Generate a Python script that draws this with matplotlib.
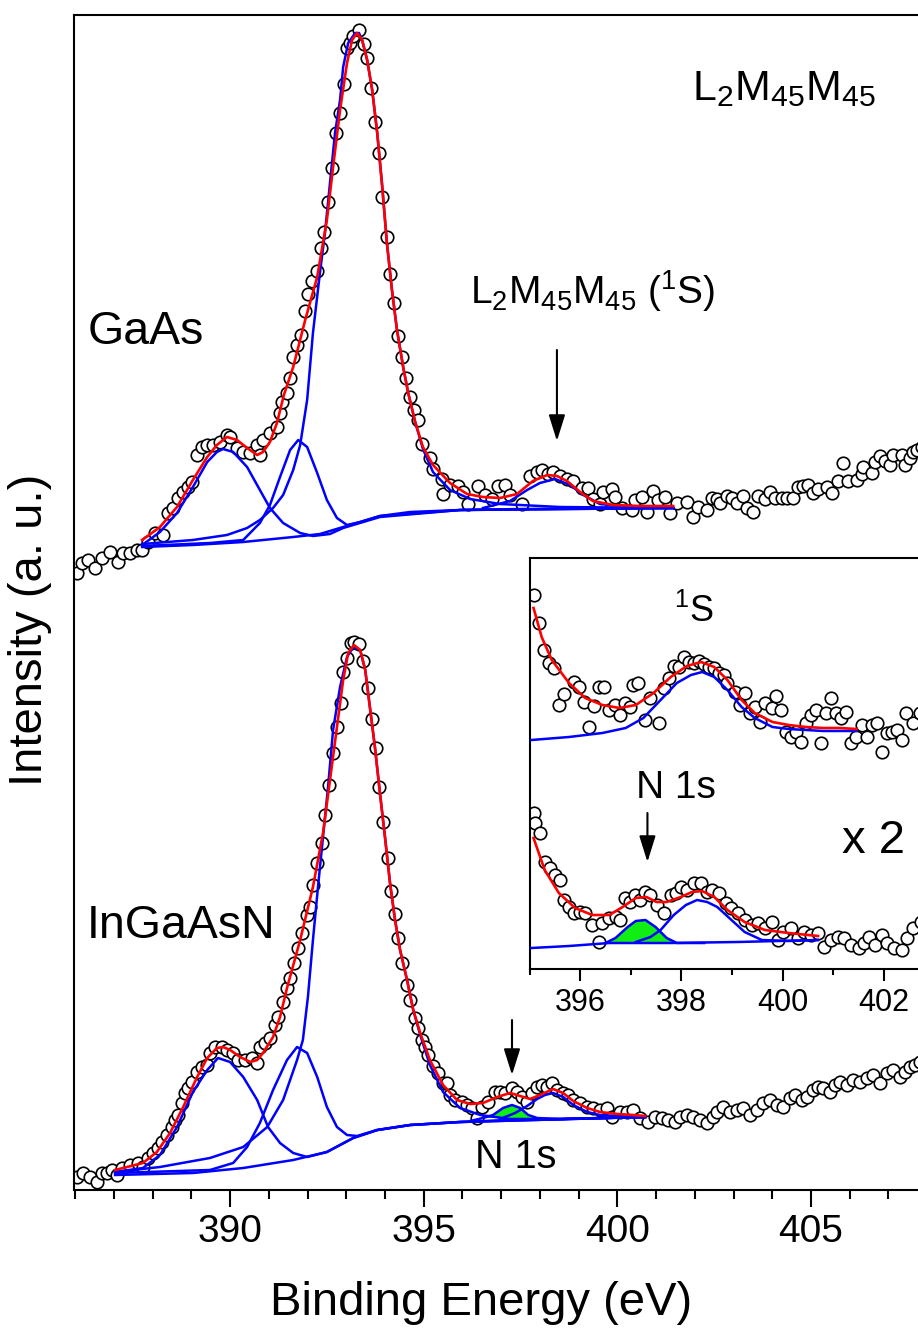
import matplotlib
matplotlib.use('Agg')
import matplotlib.pyplot as plt
from matplotlib.ticker import MultipleLocator

plt.rcParams['font.family'] = ['Liberation Sans', 'DejaVu Sans']
plt.rcParams['mathtext.fontset'] = 'custom'
plt.rcParams['mathtext.rm'] = 'Liberation Sans'
plt.rcParams['mathtext.it'] = 'Liberation Sans:italic'
plt.rcParams['mathtext.bf'] = 'Liberation Sans:bold'
plt.rcParams['mathtext.default'] = 'regular'

# ---------------- main panel: GaAs spectrum (offset) ----------------
gaas_E = [386.05, 386.18, 386.33, 386.51, 386.70, 386.90, 387.11, 387.24, 387.42, 387.60,
          387.73, 387.88, 388.06, 388.27, 388.40, 388.53, 388.66, 388.79, 388.92, 389.02,
          389.15, 389.28, 389.41, 389.56, 389.74, 389.92, 390.00, 390.18, 390.34, 390.52,
          390.70, 390.77, 390.85, 391.03, 391.21, 391.29, 391.34, 391.47,
          391.55, 391.63, 391.73, 391.84, 391.94, 392.02, 392.12, 392.25, 392.35, 392.43,
          392.53, 392.63, 392.74, 392.84, 392.94, 393.02, 393.10, 393.18, 393.33, 393.46,
          393.54, 393.64, 393.74, 393.85, 393.92, 394.05, 394.13, 394.23, 394.34, 394.44,
          394.54, 394.65, 394.75,
          394.86, 394.96, 395.16, 395.24, 395.47, 395.50, 395.68, 395.89, 396.02, 396.15,
          396.41, 396.59, 396.77, 396.92, 397.10, 397.23, 397.54, 397.75, 397.93, 398.06,
          398.21, 398.34, 398.52, 398.70, 398.86, 399.09, 399.24, 399.37, 399.55,
          399.63, 399.86, 399.94, 400.12, 400.38, 400.46, 400.64, 400.77, 400.92, 401.05,
          401.23, 401.36, 401.54, 401.80, 401.96, 402.08, 402.32, 402.45, 402.58, 402.65,
          402.83, 402.96, 403.09, 403.25, 403.35, 403.50, 403.63, 403.81, 403.94, 404.07,
          404.25, 404.38, 404.54, 404.67, 404.79, 404.92, 405.05, 405.18, 405.41, 405.54,
          405.70, 405.83, 405.96, 406.19, 406.32, 406.35, 406.58, 406.65, 406.78, 406.91,
          407.04, 407.12, 407.35, 407.43, 407.56, 407.64, 407.74, 407.87]
gaas_I = [61.7, 62.7, 63.0, 62.2, 63.2, 63.8, 62.8, 63.7, 63.7, 64.0,
          64.0, 64.8, 65.7, 65.5, 67.7, 68.2, 69.2, 69.8, 70.3, 70.8,
          73.5, 74.3, 74.5, 74.5, 74.8, 75.5, 75.3, 74.2, 73.8, 73.7,
          74.5, 73.5, 75.0, 75.7, 76.3, 77.7, 78.8, 79.7,
          81.2, 83.3, 84.5, 85.5, 87.9, 89.6, 90.9, 91.9, 94.2, 95.8,
          98.8, 102.2, 105.7, 107.7, 110.6, 114.2, 114.7, 115.4, 116.0, 114.6,
          113.2, 110.2, 106.8, 103.7, 99.3, 95.3, 91.6, 88.7, 85.4, 83.3,
          81.2, 79.3, 78.0,
          77.0, 74.6, 73.2, 72.1, 71.1, 69.6, 70.5, 70.4, 69.8, 68.6,
          70.4, 69.5, 69.1, 70.4, 70.5, 69.5, 68.6, 71.4, 71.8, 72.0,
          71.6, 71.8, 71.4, 71.1, 70.9, 70.2, 70.2, 69.1, 68.6,
          69.8, 70.1, 69.3, 68.2, 68.0, 69.0, 69.3, 67.8, 69.9, 69.0,
          69.3, 67.7, 68.7, 68.8, 67.3, 68.3, 68.0, 69.2, 69.1, 68.7,
          69.4, 69.2, 68.7, 69.4, 68.2, 67.8, 69.4, 69.1, 69.8, 69.2,
          69.2, 69.2, 69.2, 70.3, 70.4, 70.5, 69.7, 70.1, 70.3, 69.7,
          70.9, 72.7, 70.9, 71.0, 71.6, 72.3, 71.7, 72.8, 73.4, 72.9,
          72.5, 73.5, 73.5, 72.5, 73.2, 73.8, 74.0, 74.3]

gaas_fit_E = [387.73, 388.19, 388.63, 389.04, 389.41, 389.66, 389.92, 390.18, 390.44, 390.70,
              390.85, 391.03, 391.21, 391.39, 391.63, 391.94, 392.25, 392.50, 392.66, 392.84,
              393.02, 393.15, 393.28, 393.41, 393.54, 393.67, 393.80, 393.93, 394.05, 394.18,
              394.31, 394.47, 394.60, 394.78, 394.98, 395.24, 395.68, 396.12, 396.53, 396.97,
              397.41, 397.82, 398.19, 398.44, 398.70, 399.04, 399.37, 399.89, 400.59, 401.44]
gaas_fit_I = [65.0, 66.3, 68.3, 71.0, 73.3, 74.5, 75.3, 75.0, 74.2, 73.5,
              73.8, 74.8, 76.7, 79.5, 82.3, 87.0, 91.3, 97.0, 102.3, 108.0,
              112.7, 115.0, 115.7, 115.0, 113.0, 110.0, 105.7, 100.3, 94.7, 90.0,
              86.0, 82.3, 79.7, 76.8, 74.3, 72.5, 70.7, 69.6, 69.3, 69.2,
              69.6, 70.9, 71.5, 71.4, 70.9, 69.8, 68.9, 68.5, 68.4, 68.4]

gaas_bg_E = [387.73, 389.04, 390.34, 391.63, 392.32, 392.92, 393.36, 393.87, 394.65, 395.94, 397.49, 401.44]
gaas_bg_I = [64.3, 64.5, 64.8, 65.3, 65.6, 66.3, 66.8, 67.4, 67.8, 68.0, 68.1, 68.2]

gaas_c1_E = [387.73, 388.19, 388.63, 389.04, 389.41, 389.66, 389.82, 390.08, 390.44, 390.77,
             391.03, 391.37, 391.81, 392.14, 392.58, 392.92, 393.87, 395.94, 401.44]
gaas_c1_I = [64.5, 65.8, 67.7, 70.3, 72.8, 73.8, 74.1, 73.8, 72.3, 70.0,
             68.2, 66.7, 65.7, 65.4, 65.6, 66.2, 67.3, 68.0, 68.2]

gaas_c2_E = [387.73, 389.48, 390.34, 390.77, 391.03, 391.29, 391.55, 391.76, 391.99, 392.25,
             392.50, 392.76, 393.02, 393.36, 393.87, 395.94, 401.44]
gaas_c2_I = [64.4, 64.7, 65.0, 66.7, 68.5, 71.3, 74.0, 75.0, 74.3, 71.7,
             69.0, 67.2, 66.5, 66.8, 67.4, 68.0, 68.2]

gaas_c3_E = [387.73, 389.04, 389.92, 390.44, 390.77, 391.11, 391.37, 391.63, 391.81, 391.99,
             392.14, 392.32, 392.45, 392.58, 392.71, 392.84, 392.92, 393.05, 393.23, 393.33,
             393.41, 393.54, 393.67, 393.80, 393.93, 394.05, 394.18, 394.31, 394.47, 394.60,
             394.78, 394.98, 395.24, 395.68, 396.20, 396.97, 398.52, 401.44]
gaas_c3_I = [64.6, 65.0, 65.5, 66.2, 67.0, 68.2, 69.5, 72.0, 74.5, 79.0,
             85.7, 91.7, 95.7, 100.7, 105.7, 109.0, 112.3, 114.7, 115.7, 115.7,
             115.0, 113.0, 110.0, 105.7, 100.3, 94.7, 90.0, 86.0, 82.3, 79.7,
             76.8, 74.1, 71.8, 70.0, 69.1, 68.6, 68.3, 68.2]

gaas_c4_E = [396.53, 397.23, 397.67, 398.00, 398.39, 398.78, 399.12, 399.55, 400.25, 401.44]
gaas_c4_I = [68.2, 68.9, 70.0, 70.7, 71.1, 70.5, 69.5, 68.6, 68.3, 68.2]

# ---------------- main panel: InGaAsN spectrum ----------------
ing_E = [386.05, 386.20, 386.39, 386.56, 386.70, 386.82, 386.95, 387.08, 387.21, 387.42,
         387.62, 387.75, 387.88, 388.01, 388.14, 388.24, 388.37, 388.50, 388.58, 388.66,
         388.76, 388.84, 388.92, 389.02, 389.15, 389.28, 389.41, 389.48, 389.61, 389.79,
         389.92, 390.08, 390.21, 390.39, 390.57, 390.70, 390.77, 390.90, 391.03, 391.16,
         391.24, 391.37, 391.47, 391.55, 391.65, 391.76, 391.86, 391.99, 392.07, 392.14,
         392.25, 392.38, 392.45, 392.56, 392.66, 392.76, 392.87, 392.92, 393.02, 393.12,
         393.20, 393.33, 393.43, 393.56, 393.67, 393.77, 393.85, 393.95, 394.08, 394.16,
         394.26, 394.34, 394.44, 394.57, 394.65, 394.78, 394.86, 394.96, 395.03, 395.11,
         395.24, 395.37, 395.50, 395.60, 395.68, 395.81, 395.99, 396.12, 396.25, 396.38,
         396.51, 396.66, 396.84, 396.97, 397.10, 397.28, 397.41, 397.54, 397.67, 397.80,
         397.93, 398.06, 398.19, 398.32, 398.44, 398.60, 398.73, 398.86, 399.04, 399.22,
         399.37, 399.55, 399.73, 399.86, 400.07, 400.25, 400.41, 400.59, 400.80, 400.97,
         401.15, 401.31, 401.49, 401.62, 401.80, 401.96, 402.14, 402.32, 402.47, 402.58,
         402.73, 402.91, 403.09, 403.25, 403.43, 403.61, 403.76, 403.94, 404.12, 404.28,
         404.46, 404.59, 404.77, 404.90, 405.05, 405.18, 405.31, 405.49, 405.62, 405.75,
         405.93, 406.09, 406.27, 406.45, 406.60, 406.78, 406.96, 407.12, 407.30, 407.43,
         407.56, 407.69, 407.82]
ing_I = [1.3, 1.7, 1.3, 0.8, 1.7, 1.7, 2.0, 1.5, 2.2, 2.5,
         2.7, 2.3, 3.2, 3.7, 4.2, 4.8, 5.5, 6.3, 7.0, 7.5,
         8.7, 9.7, 10.2, 10.8, 11.8, 12.3, 12.5, 13.7, 14.3, 14.3,
         14.0, 13.7, 13.0, 13.0, 13.2, 12.7, 14.3, 14.7, 15.2, 16.5,
         17.3, 18.8, 20.2, 21.2, 22.7, 24.2, 25.7, 27.5, 28.3, 30.5,
         32.7, 34.7, 37.5, 40.5, 43.7, 46.3, 48.7, 51.8, 53.2, 54.7,
         54.8, 54.6, 52.9, 50.2, 47.1, 44.2, 40.3, 36.8, 33.2, 29.9,
         27.6, 25.2, 22.7, 20.5, 19.0, 17.2, 16.2, 15.0, 14.3, 13.5,
         12.4, 11.7, 10.7, 10.7, 9.5, 9.0, 8.8, 8.5, 8.2, 7.2,
         8.3, 8.8, 9.8, 9.8, 9.7, 10.2, 9.8, 9.3, 8.8, 9.7,
         10.3, 10.5, 10.3, 10.7, 10.0, 9.7, 9.5, 9.0, 8.7, 8.3,
         8.2, 8.0, 8.2, 7.3, 7.8, 7.8, 8.0, 7.2, 6.8, 7.3,
         7.2, 7.0, 6.8, 7.3, 7.5, 7.3, 7.0, 6.7, 7.3, 7.8,
         8.3, 7.8, 8.0, 8.2, 7.5, 8.0, 8.7, 9.0, 8.5, 8.3,
         9.2, 9.5, 9.0, 9.3, 10.0, 10.3, 10.2, 9.8, 10.5, 10.8,
         10.5, 11.0, 10.8, 11.2, 11.5, 10.7, 11.7, 12.0, 11.3, 11.8,
         12.3, 12.5, 12.8]

ing_fit_E = [387.03, 387.34, 387.75, 388.11, 388.45, 388.79, 389.15, 389.41, 389.66, 389.82,
             390.00, 390.26, 390.52, 390.70, 390.85, 391.11, 391.29, 391.47, 391.81, 392.14,
             392.40, 392.58, 392.76, 392.92, 393.05, 393.20, 393.36, 393.49, 393.61, 393.74,
             393.87, 394.00, 394.13, 394.26, 394.39, 394.57, 394.73, 394.91, 395.16, 395.50,
             395.86, 396.20, 396.53, 396.90, 397.23, 397.49, 397.75, 398.00, 398.34, 398.60,
             398.86, 399.22, 399.55, 400.00, 400.41, 400.72]
ing_fit_I = [2.0, 2.3, 2.7, 3.8, 5.7, 8.3, 11.3, 13.2, 14.2, 14.3,
             14.0, 13.3, 12.8, 13.0, 13.7, 15.3, 17.3, 20.2, 25.0, 30.3,
             35.7, 41.0, 46.3, 51.0, 53.7, 54.5, 54.0, 52.0, 48.3, 44.3,
             39.7, 35.3, 30.7, 27.0, 24.0, 21.0, 18.0, 15.7, 13.0, 10.5,
             9.0, 8.6, 8.7, 9.3, 9.7, 9.4, 9.1, 9.5, 10.1, 9.7,
             8.9, 8.2, 7.8, 7.6, 7.5, 7.4]

ing_bg_E = [387.03, 389.04, 390.34, 391.63, 392.50, 393.18, 393.80, 394.65, 395.94, 397.23, 398.52, 400.72]
ing_bg_I = [1.5, 1.7, 2.2, 3.0, 3.8, 5.2, 6.0, 6.5, 6.8, 7.0, 7.1, 7.3]

ing_c1_E = [387.03, 387.75, 388.19, 388.63, 389.04, 389.41, 389.69, 390.00, 390.34, 390.70,
            390.98, 391.29, 391.63, 391.99, 392.50, 393.18, 393.80, 394.65, 395.94, 400.72]
ing_c1_I = [1.8, 2.2, 3.5, 6.3, 9.8, 12.0, 13.2, 12.8, 11.3, 9.0,
            6.3, 4.7, 3.7, 3.3, 3.8, 5.2, 6.0, 6.5, 6.8, 7.3]

ing_c2_E = [387.03, 389.48, 390.08, 390.44, 390.77, 391.11, 391.47, 391.73, 391.99, 392.25,
            392.50, 392.76, 393.02, 393.28, 393.80, 394.65, 395.94, 400.72]
ing_c2_I = [1.7, 2.0, 2.7, 4.3, 6.7, 10.0, 13.0, 14.3, 13.7, 11.3,
            8.3, 6.3, 5.5, 5.4, 6.0, 6.5, 6.8, 7.3]

ing_c3_E = [387.03, 388.19, 389.48, 390.34, 390.96, 391.37, 391.73, 391.88, 392.01, 392.14,
            392.27, 392.40, 392.53, 392.66, 392.84, 393.02, 393.18, 393.36, 393.49, 393.61,
            393.74, 393.87, 394.00, 394.13, 394.26, 394.39, 394.57, 394.73, 394.91, 395.16,
            395.50, 395.94, 396.46, 397.23, 398.52, 400.72]
ing_c3_I = [1.8, 2.3, 3.2, 4.3, 6.3, 9.0, 13.0, 15.0, 19.3, 25.0,
            30.3, 35.3, 40.3, 46.0, 50.3, 53.3, 54.3, 54.0, 52.0, 48.3,
            44.3, 39.7, 35.3, 30.7, 27.0, 24.0, 21.0, 18.0, 15.5, 12.5,
            9.8, 8.2, 7.5, 7.1, 7.1, 7.3]

ing_n1s_E = [396.20, 396.53, 396.79, 397.05, 397.28, 397.49, 397.70, 397.93, 398.52, 400.72]
ing_n1s_I = [6.9, 7.2, 7.5, 8.2, 8.5, 8.2, 7.5, 7.2, 7.1, 7.3]

ing_c4_E = [396.97, 397.36, 397.67, 397.93, 398.13, 398.34, 398.60, 398.86, 399.22, 399.55, 400.41, 400.72]
ing_c4_I = [7.1, 7.7, 8.4, 9.1, 9.5, 9.7, 9.3, 8.5, 7.8, 7.5, 7.3, 7.3]

# ---------------- inset (x 2) ----------------
ins_top_E = [395.08, 395.18, 395.28, 395.38, 395.48, 395.58, 395.68, 395.88, 395.98, 396.08,
             396.18, 396.28, 396.38, 396.48, 396.58, 396.68, 396.78, 396.88, 396.98, 397.04,
             397.14, 397.29, 397.39, 397.55, 397.65, 397.75, 397.85, 397.95, 398.05, 398.15,
             398.25, 398.35, 398.45, 398.55, 398.65, 398.75, 398.85, 398.91, 399.05, 399.15,
             399.25, 399.35, 399.45, 399.55, 399.65, 399.80, 399.86, 399.96, 400.06, 400.16,
             400.26, 400.36, 400.46, 400.56, 400.66, 400.76, 400.86, 400.96, 401.06, 401.16,
             401.26, 401.36, 401.46, 401.56, 401.66, 401.76, 401.86, 401.96, 402.06, 402.16,
             402.26, 402.36, 402.43, 402.57, 402.71, 402.81]
ins_top_I = [37.4, 34.6, 31.9, 30.6, 30.1, 26.4, 27.5, 28.7, 28.2, 26.7,
             24.2, 26.3, 28.2, 28.2, 25.9, 26.4, 25.4, 26.6, 26.2, 28.4,
             28.6, 24.9, 27.1, 24.6, 28.1, 29.1, 30.3, 30.2, 31.2, 30.7,
             30.6, 30.8, 30.5, 30.2, 30.1, 29.6, 29.4, 28.6, 27.7, 26.4,
             27.6, 25.6, 26.2, 24.7, 26.6, 26.1, 27.3, 25.9, 23.7, 23.2,
             23.7, 22.7, 24.6, 25.4, 25.9, 22.6, 25.6, 27.1, 25.6, 25.1,
             25.7, 22.6, 23.2, 24.4, 23.2, 24.4, 24.6, 21.7, 23.6, 23.7,
             23.9, 22.9, 25.6, 24.6, 25.6, 26.2]
ins_top_fit_E = [395.08, 395.24, 395.44, 395.78, 396.10, 396.44, 396.78, 397.10, 397.45, 397.79,
                 398.11, 398.39, 398.65, 398.91, 399.19, 399.45, 399.80, 400.12, 400.46, 400.80,
                 401.12, 401.46]
ins_top_fit_I = [36.1, 33.2, 30.9, 28.6, 27.1, 26.4, 26.1, 26.4, 27.6, 29.2,
                 30.3, 30.7, 30.2, 28.9, 26.9, 25.6, 24.7, 24.4, 24.2, 24.1,
                 24.1, 24.0]
ins_top_comp_E = [395.04, 395.78, 396.44, 396.90, 397.25, 397.59, 397.91, 398.19, 398.41, 398.65,
                  398.91, 399.19, 399.45, 399.80, 400.12, 400.80, 401.46]
ins_top_comp_I = [22.9, 23.2, 23.6, 24.1, 25.1, 26.9, 28.6, 29.4, 29.7, 29.2,
                  27.9, 26.2, 25.1, 24.2, 24.0, 23.8, 23.8]

ins_bot_E = [395.08, 395.10, 395.20, 395.30, 395.40, 395.50, 395.60, 395.68, 395.78, 395.88,
             396.00, 396.10, 396.24, 396.38, 396.44, 396.58, 396.70, 396.78, 396.88, 396.98,
             397.08, 397.18, 397.29, 397.39, 397.51, 397.65, 397.79, 397.89, 397.99, 398.11,
             398.25, 398.39, 398.51, 398.61, 398.75, 398.89, 398.99, 399.11, 399.25, 399.39,
             399.51, 399.65, 399.80, 399.90, 400.00, 400.16, 400.30, 400.42, 400.56, 400.70,
             400.82, 400.96, 401.10, 401.22, 401.36, 401.50, 401.60, 401.70, 401.82, 401.96,
             402.06, 402.20, 402.36, 402.46, 402.57, 402.73]
ins_bot_I = [15.6, 14.6, 13.6, 10.7, 10.1, 9.4, 8.9, 6.9, 6.2, 5.6,
             5.7, 5.6, 4.4, 2.7, 4.6, 5.1, 5.2, 4.9, 7.1, 6.7,
             7.4, 6.9, 7.7, 7.4, 6.4, 5.6, 7.4, 7.6, 8.2, 7.9,
             8.6, 8.6, 7.7, 7.9, 7.6, 6.6, 6.1, 5.6, 4.9, 4.4,
             4.6, 4.1, 4.7, 2.9, 3.7, 4.1, 3.1, 3.7, 3.4, 3.6,
             2.2, 2.9, 3.2, 3.1, 2.4, 2.1, 2.6, 3.2, 2.4, 3.4,
             2.6, 2.1, 1.9, 3.1, 4.1, 4.7]
ins_bot_fit_E = [395.08, 395.30, 395.58, 395.90, 396.24, 396.58, 396.84, 397.10, 397.31, 397.51,
                 397.71, 397.99, 398.21, 398.41, 398.65, 398.91, 399.25, 399.65, 400.12, 400.70]
ins_bot_fit_I = [13.1, 9.9, 7.6, 6.1, 5.4, 5.4, 6.2, 7.1, 7.2, 6.7,
                 6.7, 7.2, 7.7, 7.8, 7.2, 5.9, 4.7, 3.9, 3.6, 3.3]
ins_bot_bg_E = [395.04, 395.78, 396.58, 397.79, 399.11, 400.70]
ins_bot_bg_I = [2.1, 2.3, 2.6, 2.6, 2.7, 2.9]
ins_bot_n1s_E = [396.50, 396.70, 396.94, 397.10, 397.29, 397.49, 397.71, 397.91, 398.45]
ins_bot_n1s_I = [2.6, 3.1, 4.2, 4.8, 4.9, 4.2, 3.1, 2.6, 2.6]
ins_bot_s_E = [397.10, 397.39, 397.59, 397.85, 398.09, 398.31, 398.51, 398.71, 398.99, 399.25,
               399.59, 400.12, 400.70]
ins_bot_s_I = [2.7, 3.2, 3.9, 5.4, 6.4, 6.9, 6.7, 6.2, 4.9, 3.7,
               2.9, 2.8, 2.9]

RED = '#ff0000'
BLUE = '#0000ff'
GREEN = '#11ee11'

fig = plt.figure(figsize=(9.18, 13.29), dpi=100)

# ---- main axes ----
ax = fig.add_axes([0.08061, 0.10459, 0.95425, 0.88412])
ax.set_xlim(385.97, 408.59)
ax.set_ylim(0, 117.5)
mk = dict(ls='none', marker='o', ms=9, mfc='white', mec='black', mew=1.2, zorder=2)
ax.plot(gaas_E, gaas_I, **mk)
ax.plot(ing_E, ing_I, **mk)

lb = dict(color=BLUE, lw=1.8, zorder=3, solid_joinstyle='round')
for e, i in [(gaas_bg_E, gaas_bg_I), (gaas_c1_E, gaas_c1_I), (gaas_c2_E, gaas_c2_I),
             (gaas_c3_E, gaas_c3_I), (gaas_c4_E, gaas_c4_I),
             (ing_bg_E, ing_bg_I), (ing_c1_E, ing_c1_I), (ing_c2_E, ing_c2_I),
             (ing_c3_E, ing_c3_I), (ing_c4_E, ing_c4_I), (ing_n1s_E, ing_n1s_I)]:
    ax.plot(e, i, **lb)
ax.fill(ing_n1s_E[1:8], ing_n1s_I[1:8], color=GREEN, zorder=2.8, lw=0)
lr = dict(color=RED, lw=1.9, zorder=4, solid_joinstyle='round')
ax.plot(gaas_fit_E, gaas_fit_I, **lr)
ax.plot(ing_fit_E, ing_fit_I, **lr)

ax.xaxis.set_major_locator(MultipleLocator(5))
ax.xaxis.set_minor_locator(MultipleLocator(1))
ax.tick_params(axis='x', which='major', direction='out', length=12, width=1.5,
               labelsize=28, pad=5)
ax.tick_params(axis='x', which='minor', direction='out', length=6.5, width=1.5)
ax.tick_params(axis='y', which='both', left=False, labelleft=False)
for s in ax.spines.values():
    s.set_linewidth(1.5)

arrow = dict(arrowstyle='-|>,head_length=0.8,head_width=0.25', lw=1.5, color='black',
             shrinkA=0, shrinkB=0, mutation_scale=20)
ax.annotate('', xy=(398.44, 74.9), xytext=(398.44, 84.0), arrowprops=arrow, zorder=5)
ax.annotate('', xy=(397.28, 11.5), xytext=(397.28, 17.0), arrowprops=arrow, zorder=5)

ax.text(386.33, 84.6, 'GaAs', fontsize=33.5, va='baseline', ha='left')
ax.text(386.31, 25.2, 'InGaAsN', fontsize=33.5, va='baseline', ha='left')
ax.text(401.93, 109.0, r'L$_2$M$_{45}$M$_{45}$', fontsize=31, va='baseline', ha='left')
ax.text(396.20, 88.6, r'L$_2$M$_{45}$M$_{45}$ ($^1$S)', fontsize=28, va='baseline', ha='left')
ax.text(396.33, 2.2, 'N 1s', fontsize=28.5, va='baseline', ha='left')

fig.text(481 / 918, 1 - 1315 / 1329, 'Binding Energy (eV)', fontsize=34,
         ha='center', va='baseline')
fig.text(30 / 918, 1 - 630 / 1329, 'Intensity (a. u.)', fontsize=34, rotation=90,
         ha='center', va='center')

# ---- inset ----
axi = fig.add_axes([0.5768, 0.27088, 0.49074, 0.30926])
axi.set_facecolor('white')
axi.set_xlim(395.0, 403.9)
axi.set_ylim(0, 41.1)
axi.plot(ins_top_E, ins_top_I, **mk)
axi.plot(ins_bot_E, ins_bot_I, **mk)
axi.fill(ins_bot_n1s_E[0:8], ins_bot_n1s_I[0:8], color=GREEN, zorder=2.8, lw=0)
for e, i in [(ins_top_comp_E, ins_top_comp_I), (ins_bot_bg_E, ins_bot_bg_I),
             (ins_bot_n1s_E, ins_bot_n1s_I), (ins_bot_s_E, ins_bot_s_I)]:
    axi.plot(e, i, **lb)
axi.plot(ins_top_fit_E, ins_top_fit_I, **lr)
axi.plot(ins_bot_fit_E, ins_bot_fit_I, **lr)

axi.xaxis.set_major_locator(MultipleLocator(2))
axi.xaxis.set_minor_locator(MultipleLocator(1))
axi.tick_params(axis='x', which='major', direction='out', length=8.5, width=1.5,
                labelsize=22, pad=5)
axi.tick_params(axis='x', which='minor', direction='out', length=4.3, width=1.5)
axi.tick_params(axis='y', which='both', left=False, labelleft=False)
for s in axi.spines.values():
    s.set_linewidth(1.5)

axi.annotate('', xy=(397.33, 10.7), xytext=(397.33, 15.6), arrowprops=arrow, zorder=5)
axi.text(397.85, 34.7, r'$^1$S', fontsize=26, va='baseline', ha='left')
axi.text(397.10, 17.1, 'N 1s', fontsize=28, va='baseline', ha='left')
axi.text(401.18, 11.6, 'x 2', fontsize=34, va='baseline', ha='left')

fig.savefig('out.png', dpi=100)
